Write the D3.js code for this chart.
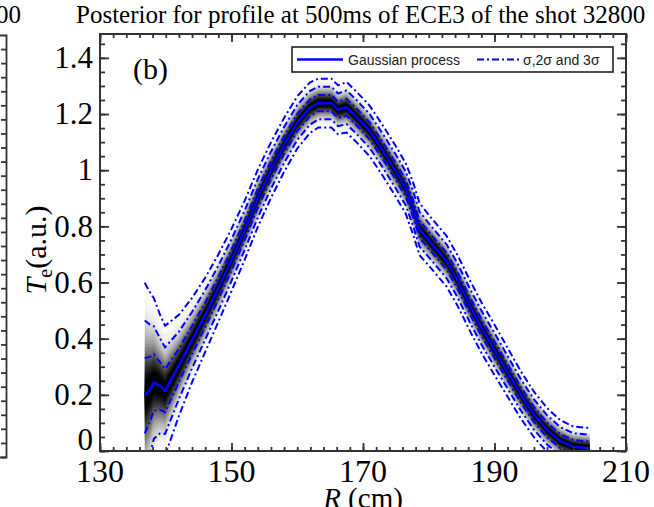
<!DOCTYPE html>
<html>
<head>
<meta charset="utf-8">
<script src="https://cdn.jsdelivr.net/npm/d3@7"></script>
<style>
  body { margin: 0; background: #fff; }
  svg { display: block; }
</style>
</head>
<body>
<svg id="chart" width="654" height="507"></svg>
<script>
// posterior profile: R (cm), mean Te and one sigma
var R_cm = [136.8, 137.6, 138.2, 139.1, 139.9, 142, 144, 146, 148, 150,
            152, 154, 156, 158, 160, 161.9, 163.2, 165.2, 166.2, 167.5,
            169, 171, 173, 175, 176.5, 177.6, 178.6, 180.2, 182.7, 184.3,
            186.3, 188, 190, 192, 194, 196, 198, 200, 202, 204.5];
var te_mean = [0.197, 0.22, 0.244, 0.232, 0.215, 0.305, 0.395, 0.485, 0.58, 0.68,
               0.786, 0.9, 1.0, 1.09, 1.17, 1.222, 1.239, 1.239, 1.215, 1.224,
               1.19, 1.14, 1.07, 0.995, 0.935, 0.865, 0.79, 0.745, 0.676, 0.611,
               0.516, 0.44, 0.36, 0.28, 0.2, 0.13, 0.075, 0.035, 0.015, 0.01];
var te_sigma = [0.134, 0.115, 0.1, 0.085, 0.077, 0.06, 0.05, 0.044, 0.04, 0.037,
                0.035, 0.034, 0.033, 0.032, 0.031, 0.03, 0.029, 0.029, 0.029, 0.03,
                0.03, 0.03, 0.03, 0.03, 0.03, 0.031, 0.031, 0.03, 0.03, 0.03,
                0.03, 0.03, 0.03, 0.029, 0.028, 0.027, 0.026, 0.025, 0.024, 0.024];

var x_ticks = [130, 150, 170, 190, 210];
var y_ticks = [0, 0.2, 0.4, 0.6, 0.8, 1, 1.2, 1.4];
var sigma_levels = [-3, -2, -1, 1, 2, 3];

var title_text = "Posterior for profile at 500ms of ECE3 of the shot 32800";
var legend_labels = ["Gaussian process", "\u03c3,2\u03c3 and 3\u03c3"];

var blue = "#0000ff";
var frame_col = "#333";
var serif = "'Liberation Serif', 'Times New Roman', serif";
var sans = "'Liberation Sans', Arial, sans-serif";

var svg = d3.select("#chart");

var x = d3.scaleLinear().domain([130, 210]).range([100, 626]);
var y = d3.scaleLinear().domain([0, 1.485]).range([451, 34]);

var pts = R_cm.map(function(r, i) {
    return {r: r, m: te_mean[i], s: te_sigma[i]};
});

svg.append("clipPath").attr("id", "plotclip")
  .append("rect")
    .attr("x", x(130)).attr("y", y(1.485))
    .attr("width", x(210) - x(130)).attr("height", y(0) - y(1.485));

var plot = svg.append("g").attr("clip-path", "url(#plotclip)");

// grey density: nested bands, opacities chosen so darkness ~ exp(-k^2/2)
var dk = 0.1, kmax = 3.6;
var ks = d3.range(dk, kmax + dk / 2, dk);
var transp = ks.map(function(k) {
    var km = k - dk / 2;
    return 1 - Math.exp(-km * km / 2);
});
ks.forEach(function(k, i) {
    var a = (i < ks.length - 1) ? 1 - transp[i] / transp[i + 1] : 1 - transp[i];
    var band = d3.area()
        .x(function(d) { return x(d.r); })
        .y0(function(d) { return y(d.m - k * d.s); })
        .y1(function(d) { return y(d.m + k * d.s); });
    plot.append("path")
        .datum(pts)
        .attr("d", band)
        .attr("fill", "#000")
        .attr("fill-opacity", a);
});

// sigma lines
sigma_levels.forEach(function(n) {
    var ln = d3.line()
        .x(function(d) { return x(d.r); })
        .y(function(d) { return y(d.m + n * d.s); });
    plot.append("path")
        .datum(pts)
        .attr("d", ln)
        .attr("fill", "none")
        .attr("stroke", blue)
        .attr("stroke-width", 2)
        .attr("stroke-dasharray", "7,3,2,3");
});

// mean
plot.append("path")
    .datum(pts)
    .attr("d", d3.line().x(function(d) { return x(d.r); }).y(function(d) { return y(d.m); }))
    .attr("fill", "none")
    .attr("stroke", blue)
    .attr("stroke-width", 2.6);

// axes, ticks pointing inward on all four sides
var x_minor = d3.range(130, 210.1, 2);
var y_minor = d3.range(0, 1.47, 0.05);

function tickAxis(axis, g) {
    g.call(axis);
    g.select(".domain").remove();
    g.selectAll(".tick line").attr("stroke", frame_col).attr("stroke-width", 1.8);
}

tickAxis(d3.axisTop(x).tickValues(x_minor).tickSize(4).tickFormat(""),
    svg.append("g").attr("transform", "translate(0," + y(0) + ")"));
tickAxis(d3.axisTop(x).tickValues(x_ticks).tickSize(8).tickFormat(""),
    svg.append("g").attr("transform", "translate(0," + y(0) + ")"));
tickAxis(d3.axisBottom(x).tickValues(x_minor).tickSize(4).tickFormat(""),
    svg.append("g").attr("transform", "translate(0," + y(1.485) + ")"));
tickAxis(d3.axisBottom(x).tickValues(x_ticks).tickSize(8).tickFormat(""),
    svg.append("g").attr("transform", "translate(0," + y(1.485) + ")"));
tickAxis(d3.axisRight(y).tickValues(y_minor).tickSize(5).tickFormat(""),
    svg.append("g").attr("transform", "translate(" + x(130) + ",0)"));
tickAxis(d3.axisRight(y).tickValues(y_ticks).tickSize(9).tickFormat(""),
    svg.append("g").attr("transform", "translate(" + x(130) + ",0)"));
tickAxis(d3.axisLeft(y).tickValues(y_minor).tickSize(5).tickFormat(""),
    svg.append("g").attr("transform", "translate(" + x(210) + ",0)"));
tickAxis(d3.axisLeft(y).tickValues(y_ticks).tickSize(9).tickFormat(""),
    svg.append("g").attr("transform", "translate(" + x(210) + ",0)"));

svg.append("rect")
    .attr("x", x(130)).attr("y", y(1.485))
    .attr("width", x(210) - x(130)).attr("height", y(0) - y(1.485))
    .attr("fill", "none")
    .attr("stroke", frame_col)
    .attr("stroke-width", 2);

// tick labels
svg.append("g").selectAll("text")
  .data(x_ticks)
  .join("text")
    .attr("x", function(d) { return x(d); })
    .attr("y", 482)
    .attr("text-anchor", "middle")
    .style("font-family", serif)
    .style("font-size", "32px")
    .text(function(d) { return d; });

// the bottom label "0" sits on the axis line, the rest are centred on their ticks
svg.append("g").selectAll("text")
  .data(y_ticks)
  .join("text")
    .attr("x", 93)
    .attr("y", function(d) { return d === 0 ? y(d) - 1 : y(d); })
    .attr("dy", function(d) { return d === 0 ? 0 : "0.33em"; })
    .attr("text-anchor", "end")
    .style("font-family", serif)
    .style("font-size", "31px")
    .text(function(d) { return String(+d.toFixed(1)); });

// axis titles
var xl = svg.append("text")
    .attr("x", x(170))
    .attr("y", 508)
    .attr("text-anchor", "middle")
    .style("font-family", serif)
    .style("font-size", "29px");
xl.append("tspan").style("font-style", "italic").text("R");
xl.append("tspan").text(" (cm)");

var yl = svg.append("text")
    .attr("transform", "translate(46,250) rotate(-90)")
    .attr("text-anchor", "middle")
    .style("font-family", serif)
    .style("font-size", "30px");
yl.append("tspan").style("font-style", "italic").text("T");
yl.append("tspan").attr("dy", 6).style("font-size", "20px").text("e");
yl.append("tspan").attr("dy", -6).text("(a.u.)");

svg.append("text")
    .attr("x", 76).attr("y", 23)
    .style("font-family", serif)
    .style("font-size", "25px")
    .text(title_text);

svg.append("text")
    .attr("x", 133).attr("y", 79)
    .style("font-family", serif)
    .style("font-size", "30px")
    .text("(b)");

// legend
var lg = svg.append("g");
lg.append("rect")
    .attr("x", 292).attr("y", 47).attr("width", 321).attr("height", 25)
    .attr("fill", "#fff").attr("stroke", "#222").attr("stroke-width", 1.6);
lg.append("line")
    .attr("x1", 297).attr("x2", 343).attr("y1", 59.5).attr("y2", 59.5)
    .attr("stroke", blue).attr("stroke-width", 2.6);
lg.append("text")
    .attr("x", 348).attr("y", 64.5)
    .style("font-family", sans).style("font-size", "14px").attr("fill", "#222")
    .text(legend_labels[0]);
lg.append("line")
    .attr("x1", 477).attr("x2", 520).attr("y1", 59.5).attr("y2", 59.5)
    .attr("stroke", blue).attr("stroke-width", 2)
    .attr("stroke-dasharray", "7,3,2,3");
lg.append("text")
    .attr("x", 523).attr("y", 64.5)
    .style("font-family", sans).style("font-size", "14px").attr("fill", "#222")
    .text(legend_labels[1]);

// edge of the neighbouring panel (a) on the left
svg.append("text")
    .attr("x", 21).attr("y", 23)
    .attr("text-anchor", "end")
    .style("font-family", serif)
    .style("font-size", "25px")
    .text("00");
var left_y = d3.scaleLinear().domain([0, 1.5]).range([457, 35]);
var lp = svg.append("g").attr("transform", "translate(6,0)");
lp.call(d3.axisLeft(left_y).tickValues(d3.range(0, 1.5, 0.05)).tickSize(5).tickFormat("").tickSizeOuter(6));
lp.selectAll("line, path").attr("stroke", frame_col).attr("stroke-width", 1.8);
</script>
</body>
</html>
